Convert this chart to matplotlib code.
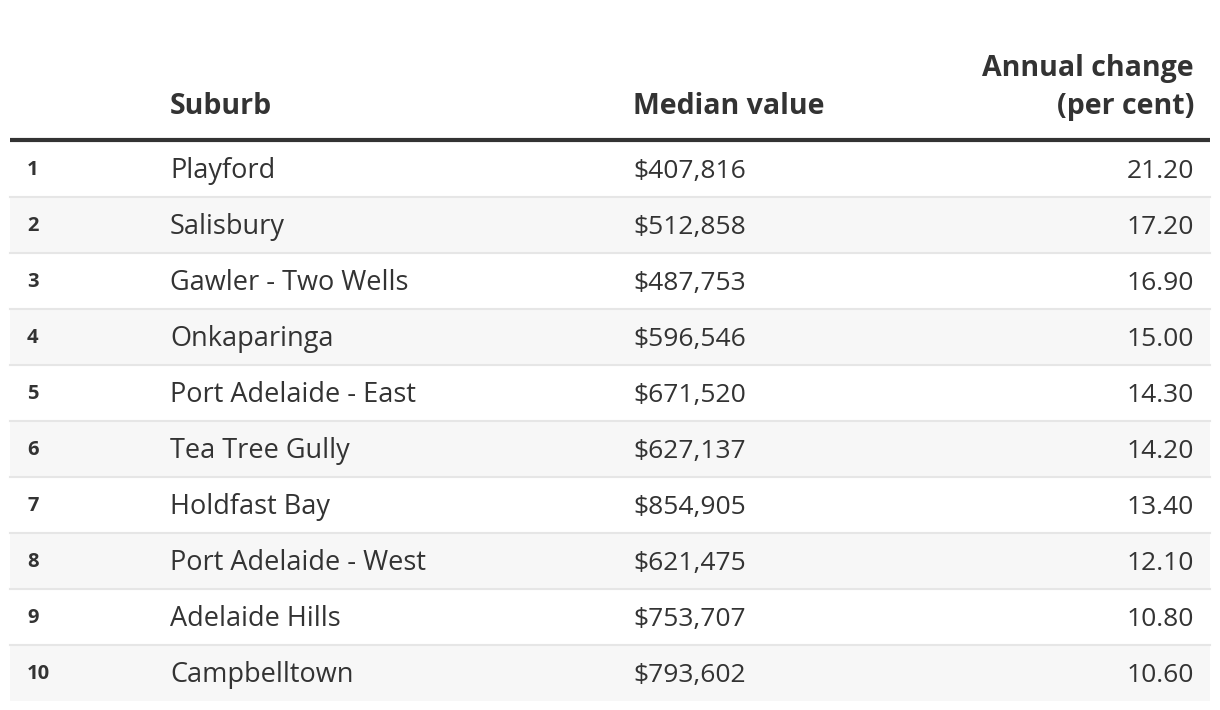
import numpy as np
import matplotlib.pyplot as plt
from matplotlib.patches import Rectangle

plt.rcParams['font.family'] = ['Open Sans', 'DejaVu Sans']

# Table data
ranks = ['1', '2', '3', '4', '5', '6', '7', '8', '9', '10']
suburbs = ['Playford', 'Salisbury', 'Gawler - Two Wells', 'Onkaparinga',
           'Port Adelaide - East', 'Tea Tree Gully', 'Holdfast Bay',
           'Port Adelaide - West', 'Adelaide Hills', 'Campbelltown']
median_values = [407816, 512858, 487753, 596546, 671520,
                 627137, 854905, 621475, 753707, 793602]
annual_change = [21.20, 17.20, 16.90, 15.00, 14.30,
                 14.20, 13.40, 12.10, 10.80, 10.60]

text_col = '#333333'

fig = plt.figure(figsize=(12.2, 7.1), dpi=100)
ax = fig.add_axes([0, 0, 1, 1])
ax.set_xlim(0, 1220)
ax.set_ylim(710, 0)
ax.axis('off')

# row geometry in pixel units
left, right = 10, 1210
top = 141
row_h = 56

# header
hdr = dict(fontsize=20.5, fontweight='bold', color=text_col, va='baseline')
ax.text(170, 114, 'Suburb', ha='left', **hdr)
ax.text(633, 114, 'Median value', ha='left', **hdr)
ax.text(1194, 76, 'Annual change', ha='right', **hdr)
ax.text(1194, 114, '(per cent)', ha='right', **hdr)
ax.plot([left, right], [140, 140], color='#333333', lw=3, solid_capstyle='butt')

for i in range(len(ranks)):
    y0 = top + i * row_h
    yb = y0 + 37
    if i % 2 == 1:
        ax.add_patch(Rectangle((left, y0), right - left, row_h, facecolor='#f7f7f7', edgecolor='none', zorder=0))
    if i < len(ranks) - 1:
        ax.plot([left, right], [y0 + row_h, y0 + row_h], color='#e6e6e6', lw=1.5, zorder=1)
    ax.text(27, y0 + 34, ranks[i], fontsize=14.5, fontweight='bold', color=text_col, va='baseline', ha='left')
    ax.text(170, yb, suburbs[i], fontsize=19.5, color=text_col, va='baseline', ha='left')
    ax.text(633, yb, f'${median_values[i]:,}', fontsize=19, color=text_col, va='baseline', ha='left')
    ax.text(1194, yb, f'{annual_change[i]:.2f}', fontsize=19, color=text_col, va='baseline', ha='right')

fig.savefig('out.png', dpi=100, facecolor='white')
